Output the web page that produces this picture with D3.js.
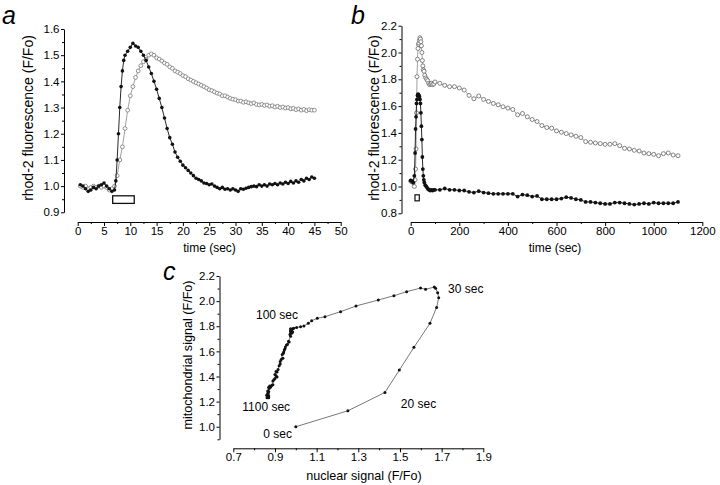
<!DOCTYPE html>
<html><head><meta charset="utf-8">
<script src="https://cdn.jsdelivr.net/npm/d3@7"></script>
<style>
body{margin:0;background:#fff}
svg{display:block}
text{font-family:"Liberation Sans",Arial,Helvetica,sans-serif}
</style>
</head><body>
<svg id="chart" width="720" height="485"></svg>
<script>
// ---------- DATA ----------
// Panel a : time (s) and rhod-2 F/Fo, nuclear (filled) and mitochondrial (open)
const aTimeNuc = [0.5,1,1.5,2,2.5,3,3.5,4,4.5,5,5.5,6,6.5,7,7.25,7.5,7.75,8,8.25,8.5,8.75,9,9.5,10,10.5,11,11.5,12,12.5,13,13.5,14,14.5,15,15.5,16,16.5,17,17.5,18,18.5,19,19.5,20,20.5,21,21.5,22,22.5,23,23.5,24,24.5,25,25.5,26,26.5,27,27.5,28,28.5,29,29.5,30,30.5,31,31.5,32,32.5,33,33.5,34,34.5,35,35.5,36,36.5,37,37.5,38,38.5,39,39.5,40,40.5,41,41.5,42,42.5,43,43.5,44,44.5,45];
const aNuc = [1.005,1.0,0.99,0.98,0.985,0.995,0.99,1.0,1.005,1.012,1.0,0.99,0.98,0.985,1.02,1.1,1.2,1.3,1.38,1.44,1.48,1.5,1.515,1.53,1.545,1.535,1.53,1.515,1.5,1.48,1.455,1.43,1.4,1.37,1.335,1.3,1.26,1.22,1.185,1.16,1.13,1.11,1.095,1.08,1.07,1.06,1.05,1.04,1.03,1.025,1.02,1.012,1.01,1.005,1.008,1.0,0.995,0.99,0.995,0.988,0.99,0.985,0.99,0.985,0.98,0.99,0.988,0.992,0.995,0.998,1.0,0.998,1.005,1.0,1.005,1.0,1.008,1.005,1.01,1.005,1.012,1.008,1.015,1.01,1.018,1.012,1.02,1.015,1.025,1.02,1.03,1.025,1.035,1.03];
const aTimeMito = [0.5,1,1.5,2,2.5,3,3.5,4,4.5,5,5.5,6,6.5,7,7.5,8,8.5,9,9.5,10,10.5,11,11.5,12,12.5,13,13.5,14,14.5,15,15.5,16,16.5,17,17.5,18,18.5,19,19.5,20,20.5,21,21.5,22,22.5,23,23.5,24,24.5,25,25.5,26,26.5,27,27.5,28,28.5,29,29.5,30,30.5,31,31.5,32,32.5,33,33.5,34,34.5,35,35.5,36,36.5,37,37.5,38,38.5,39,39.5,40,40.5,41,41.5,42,42.5,43,43.5,44,44.5,45];
const aMito = [1.0,0.995,1.0,0.99,0.995,1.0,0.995,1.0,0.995,1.0,0.995,0.985,0.99,1.0,1.04,1.1,1.15,1.22,1.29,1.345,1.38,1.415,1.44,1.46,1.475,1.485,1.5,1.505,1.5,1.49,1.485,1.478,1.47,1.465,1.455,1.45,1.44,1.435,1.43,1.422,1.418,1.41,1.405,1.4,1.395,1.39,1.385,1.38,1.375,1.368,1.365,1.36,1.355,1.352,1.345,1.345,1.34,1.335,1.332,1.33,1.325,1.325,1.32,1.322,1.318,1.315,1.318,1.312,1.31,1.312,1.308,1.31,1.305,1.307,1.302,1.305,1.3,1.302,1.298,1.3,1.295,1.297,1.292,1.295,1.29,1.293,1.288,1.292,1.29,1.29];
const aStimulus = [6.65, 10.75];

// Panel b : long time course
const bTimeNuc = [0,5,10,15,18,20,22,24,26,28,30,32,34,36,38,40,42,44,46,48,50,52,54,56,60,64,68,72,76,80,85,90,95,100,120,140,160,180,200,220,240,260,280,300,320,340,360,380,400,420,440,460,480,500,520,540,560,580,600,620,640,660,680,700,720,740,760,780,800,820,840,860,880,900,920,940,960,980,1000,1020,1040,1060,1080,1100];
const bNuc = [1.045,1.04,1.03,1.08,1.25,1.43,1.52,1.62,1.65,1.68,1.69,1.685,1.68,1.67,1.65,1.62,1.55,1.45,1.35,1.22,1.13,1.08,1.05,1.03,1.01,1.0,0.99,0.98,0.975,0.97,0.975,0.97,0.975,0.975,0.975,0.985,0.975,0.975,0.97,0.97,0.96,0.955,0.965,0.955,0.95,0.945,0.945,0.945,0.945,0.945,0.925,0.94,0.935,0.925,0.93,0.905,0.905,0.905,0.905,0.91,0.92,0.915,0.905,0.9,0.885,0.885,0.88,0.875,0.87,0.87,0.88,0.88,0.875,0.87,0.865,0.87,0.875,0.87,0.88,0.875,0.875,0.875,0.875,0.885];
const bTimeMito = [0,5,10,15,18,20,22,24,26,28,30,32,34,36,38,40,42,44,46,48,50,52,55,58,62,66,70,74,78,82,86,90,95,100,120,140,160,180,200,220,240,260,280,300,320,340,360,380,400,420,440,460,480,500,520,540,560,580,600,620,640,660,680,700,720,740,760,780,800,820,840,860,880,900,920,940,960,980,1000,1020,1040,1060,1080,1100];
const bMito = [1.04,1.035,1.03,1.0,1.05,1.13,1.28,1.55,1.82,1.95,2.03,2.06,2.07,2.09,2.11,2.1,2.08,2.05,2.0,1.94,1.9,1.87,1.86,1.83,1.81,1.8,1.79,1.77,1.76,1.765,1.77,1.76,1.765,1.78,1.77,1.755,1.745,1.745,1.735,1.72,1.68,1.655,1.675,1.65,1.635,1.62,1.61,1.595,1.585,1.575,1.535,1.545,1.52,1.5,1.485,1.455,1.44,1.435,1.415,1.405,1.395,1.385,1.375,1.365,1.335,1.33,1.325,1.32,1.315,1.315,1.32,1.305,1.285,1.28,1.27,1.265,1.25,1.245,1.24,1.23,1.245,1.25,1.235,1.23];
const bStimulus = [17.6, 35.4];

// Panel c : nuclear vs mitochondrial signal
const cNuclear = [1.0,1.25,1.428,1.497,1.567,1.644,1.676,1.686,1.681,1.671,1.665,1.623,1.599,1.532,1.471,1.396,1.289,1.215,1.14,1.103,1.076,1.06,1.039,1.023,1.004,0.99,0.985,0.978,0.975,0.98,0.975,0.978,
  0.975,0.98,0.985,0.975,0.98,0.972,0.975,0.965,0.96,0.968,0.955,0.95,0.948,0.945,0.942,0.94,0.935,0.93,0.938,0.925,0.925,0.92,0.915,0.905,0.91,0.9,0.905,0.91,0.9,0.895,0.89,0.89,0.885,0.875,0.88,0.87,0.878,0.88,0.872,0.865,0.87,0.868,0.865,0.86,0.87,0.865,0.862,0.87,0.868,0.865,0.87];
const cMito = [1.0,1.127,1.273,1.451,1.632,1.823,1.95,2.027,2.067,2.102,2.112,2.094,2.104,2.075,2.043,2.009,1.961,1.916,1.876,1.863,1.844,1.823,1.802,1.796,1.791,1.785,1.78,1.775,1.765,1.77,1.76,1.765,
  1.78,1.77,1.755,1.745,1.745,1.735,1.72,1.68,1.655,1.675,1.65,1.635,1.62,1.61,1.595,1.585,1.575,1.535,1.545,1.52,1.5,1.485,1.455,1.44,1.435,1.415,1.405,1.395,1.385,1.375,1.365,1.335,1.33,1.325,1.32,1.315,1.315,1.32,1.305,1.285,1.28,1.27,1.265,1.25,1.245,1.24,1.23,1.245,1.25,1.235,1.23];
const cLabels = ["0 sec","20 sec","30 sec","100 sec","1100 sec"];
const cLabelAnchors = [[0.844,0.912],[1.504,1.151],[1.731,2.062],[0.809,1.857],[0.743,1.127]];

// Tick values
const aXTicks = [0,5,10,15,20,25,30,35,40,45,50];
const aYTicks = [0.9,1.0,1.1,1.2,1.3,1.4,1.5,1.6];
const bXTicks = [0,200,400,600,800,1000,1200];
const bYTicks = [0.8,1.0,1.2,1.4,1.6,1.8,2.0,2.2];
const cXTicks = [0.7,0.9,1.1,1.3,1.5,1.7,1.9];
const cYTicks = [1.0,1.2,1.4,1.6,1.8,2.0,2.2];

// ---------- DRAWING ----------
const svg = d3.select("#chart");
const FONT = '"Liberation Sans",Arial,Helvetica,sans-serif';

function zip(xs, ys){ return xs.map((x,i)=>[x, ys[i]]); }
function minorOf(ticks){ const r=[]; for(let i=0;i<ticks.length-1;i++) r.push((ticks[i]+ticks[i+1])/2); return r; }

function drawAxes(xs, ys, xTicks, yTicks, xAxisY, yAxisX, xFmt, yFmt, yMinorExtra){
  const gx = svg.append("g").attr("transform",`translate(0,${xAxisY})`);
  gx.call(d3.axisBottom(xs).tickValues(minorOf(xTicks)).tickSize(2).tickSizeOuter(0).tickFormat(""));
  gx.call(g=>g.select(".domain").remove());
  const gx2 = svg.append("g").attr("transform",`translate(0,${xAxisY})`);
  gx2.call(d3.axisBottom(xs).tickValues(xTicks).tickSize(4).tickSizeOuter(0).tickPadding(1).tickFormat(xFmt));
  const gy = svg.append("g").attr("transform",`translate(${yAxisX},0)`);
  gy.call(d3.axisLeft(ys).tickValues(minorOf(yTicks).concat(yMinorExtra||[])).tickSize(2).tickSizeOuter(0).tickFormat(""));
  gy.call(g=>g.select(".domain").remove());
  const gy2 = svg.append("g").attr("transform",`translate(${yAxisX},0)`);
  gy2.call(d3.axisLeft(ys).tickValues(yTicks).tickSize(3).tickSizeOuter(0).tickPadding(1.5).tickFormat(yFmt));
  svg.selectAll("g.tick text").attr("font-family",FONT).attr("font-size","11.5px").attr("fill","#000");
  svg.selectAll("g .domain, g.tick line").attr("stroke","#000").attr("stroke-width",1);
}

function label(txt, x, y, size, rotate, anchor){
  const t = svg.append("text").text(txt).attr("font-size",size+"px").attr("fill","#000")
    .attr("text-anchor",anchor||"middle");
  if(rotate) t.attr("transform",`translate(${x},${y}) rotate(-90)`);
  else t.attr("x",x).attr("y",y);
  return t;
}

// ----- Panel a -----
const ax = d3.scaleLinear().domain([0,50]).range([77.7,340.7]);
const ay = d3.scaleLinear().domain([0.9,1.6]).range([212.3,29]);
drawAxes(ax, ay, aXTicks, aYTicks, 222, 64, d3.format("d"), d3.format(".1f"));
const lineA = d3.line().x(d=>ax(d[0])).y(d=>ay(d[1]));
const aM = zip(aTimeMito,aMito), aN = zip(aTimeNuc,aNuc);
svg.append("path").attr("d",lineA(aM)).attr("fill","none").attr("stroke","#888").attr("stroke-width",0.8);
svg.append("g").selectAll("circle").data(aM).join("circle")
  .attr("cx",d=>ax(d[0])).attr("cy",d=>ay(d[1])).attr("r",1.9)
  .attr("fill","#fff").attr("stroke","#777").attr("stroke-width",0.8);
svg.append("path").attr("d",lineA(aN)).attr("fill","none").attr("stroke","#111").attr("stroke-width",0.9);
svg.append("g").selectAll("circle").data(aN).join("circle")
  .attr("cx",d=>ax(d[0])).attr("cy",d=>ay(d[1])).attr("r",1.8).attr("fill","#111");
svg.append("rect").attr("x",ax(aStimulus[0])).attr("width",ax(aStimulus[1])-ax(aStimulus[0]))
  .attr("y",ay(0.963)).attr("height",ay(0.934)-ay(0.963))
  .attr("fill","none").attr("stroke","#111").attr("stroke-width",1.3);
label("rhod-2 fluorescence (F/Fo)", 33, 118, 14, true);
label("time (sec)", 209.5, 252, 12);
label("a", 2, 24, 25, false, "start").attr("font-style","italic");

// ----- Panel b -----
const bx = d3.scaleLinear().domain([0,1200]).range([410.7,702.3]);
const by = d3.scaleLinear().domain([0.8,2.2]).range([213.3,25.7]);
drawAxes(bx, by, bXTicks, bYTicks, 222, 401.5, d3.format("d"), d3.format(".1f"));
const lineB = d3.line().x(d=>bx(d[0])).y(d=>by(d[1]));
const bM = zip(bTimeMito,bMito), bN = zip(bTimeNuc,bNuc);
svg.append("path").attr("d",lineB(bM)).attr("fill","none").attr("stroke","#888").attr("stroke-width",0.8);
svg.append("g").selectAll("circle").data(bM).join("circle")
  .attr("cx",d=>bx(d[0])).attr("cy",d=>by(d[1])).attr("r",2)
  .attr("fill","#fff").attr("stroke","#666").attr("stroke-width",0.8);
svg.append("path").attr("d",lineB(bN)).attr("fill","none").attr("stroke","#111").attr("stroke-width",0.9);
svg.append("g").selectAll("circle").data(bN).join("circle")
  .attr("cx",d=>bx(d[0])).attr("cy",d=>by(d[1])).attr("r",1.9).attr("fill","#111");
svg.append("rect").attr("x",bx(bStimulus[0])).attr("width",bx(bStimulus[1])-bx(bStimulus[0]))
  .attr("y",by(0.938)).attr("height",by(0.893)-by(0.938))
  .attr("fill","none").attr("stroke","#111").attr("stroke-width",1.2);
label("rhod-2 fluorescence (F/Fo)", 379, 118, 14, true);
label("time (sec)", 555, 252, 12);
label("b", 351, 24, 25, false, "start").attr("font-style","italic");

// ----- Panel c -----
const cx = d3.scaleLinear().domain([0.7,1.9]).range([233.3,483.3]);
const cy = d3.scaleLinear().domain([0.9,2.2]).range([439.3,276]);
drawAxes(cx, cy, cXTicks, cYTicks, 448.3, 219.5, d3.format(".1f"), d3.format(".1f"), [0.9]);
const cPts = zip(cNuclear,cMito);
svg.append("path").attr("d",d3.line().x(d=>cx(d[0])).y(d=>cy(d[1]))(cPts))
  .attr("fill","none").attr("stroke","#555").attr("stroke-width",0.8);
svg.append("g").selectAll("circle").data(cPts).join("circle")
  .attr("cx",d=>cx(d[0])).attr("cy",d=>cy(d[1])).attr("r",1.5).attr("fill","#111");
cLabels.forEach((t,i)=>label(t, cx(cLabelAnchors[i][0]), cy(cLabelAnchors[i][1]), 12, false, "start"));
label("mitochondrial signal (F/Fo)", 192, 355, 12.6, true);
label("nuclear signal (F/Fo)", 364, 480, 12.6);
label("c", 163, 280, 25, false, "start").attr("font-style","italic");
</script>
</body></html>
